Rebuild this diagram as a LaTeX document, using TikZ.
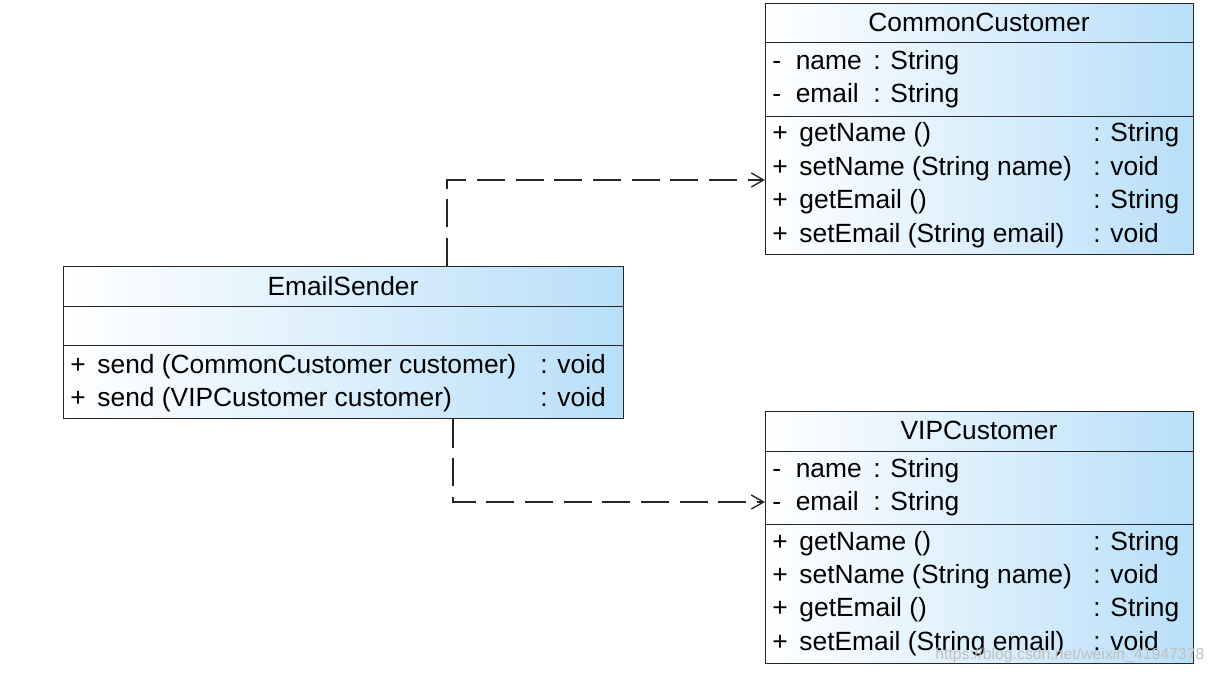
\documentclass[tikz,border=0pt]{standalone}
\usepackage{fontspec}
\setmainfont{Liberation Sans}
\usepackage{xcolor}
\usepackage{tikz}
\usetikzlibrary{arrows.meta}
\definecolor{umlblue}{RGB}{184,223,249}

\begin{document}
\begin{tikzpicture}[x=0.02cm,y=-0.02cm,
		part/.style={draw=black!85,line width=0.8pt,left color=white,right color=umlblue,anchor=north west,inner sep=0pt,minimum width=8.56cm},
		title/.style={inner sep=0pt,font=\fontsize{15}{18}\selectfont},
		row/.style={anchor=west,inner sep=0pt,text height=10pt,text depth=3pt,font=\fontsize{15}{18}\selectfont},
		dep/.style={draw=black!85,line width=0.8pt,dash pattern=on 16pt off 6pt,-{Straight Barb[length=7pt,width=8pt]}}]
			\useasboundingbox (0,0) rectangle (1216,674);

			%% CommonCustomer
			\node[part,minimum height=0.78cm] (cc-head) at (765,3) {};
			\node[part,minimum height=1.48cm] (cc-attr) at (765,42) {};
			\node[part,minimum height=2.76cm] (cc-ops) at (765,116) {};
			\node[title] (cc-name) at (979,22) {CommonCustomer};
			\node[row] (cc-a1) at (772,63) {- \ name};
			\node[row] (cc-a1t) at (873,63) {: String};
			\node[row] (cc-a2) at (772,96) {- \ email};
			\node[row] (cc-a2t) at (873,96) {: String};
			\node[row] (cc-o1) at (772,135) {+ \,getName ()};
			\node[row] (cc-o1t) at (1093,135) {: String};
			\node[row] (cc-o2) at (772,169) {+ \,setName (String name)};
			\node[row] (cc-o2t) at (1093,169) {: void};
			\node[row] (cc-o3) at (772,202) {+ \,getEmail ()};
			\node[row] (cc-o3t) at (1093,202) {: String};
			\node[row] (cc-o4) at (772,236) {+ \,setEmail (String email)};
			\node[row] (cc-o4t) at (1093,236) {: void};

			%% EmailSender
			\node[part,minimum width=11.2cm,minimum height=0.8cm] (es-head) at (63,266) {};
			\node[part,minimum width=11.2cm,minimum height=0.78cm] (es-attr) at (63,306) {};
			\node[part,minimum width=11.2cm,minimum height=1.46cm] (es-ops) at (63,345) {};
			\node[title] (es-name) at (343,286) {EmailSender};
			\node[row] (es-o1) at (70,367) {+ \,send (CommonCustomer customer)};
			\node[row] (es-o1t) at (540,367) {: void};
			\node[row] (es-o2) at (70,400) {+ \,send (VIPCustomer customer)};
			\node[row] (es-o2t) at (540,400) {: void};

			%% VIPCustomer
			\node[part,minimum height=0.8cm] (vip-head) at (765,411) {};
			\node[part,minimum height=1.46cm] (vip-attr) at (765,451) {};
			\node[part,minimum height=2.78cm] (vip-ops) at (765,524) {};
			\node[title] (vip-name) at (979,430) {VIPCustomer};
			\node[row] (vip-a1) at (772,471) {- \ name};
			\node[row] (vip-a1t) at (873,471) {: String};
			\node[row] (vip-a2) at (772,504) {- \ email};
			\node[row] (vip-a2t) at (873,504) {: String};
			\node[row] (vip-o1) at (772,544) {+ \,getName ()};
			\node[row] (vip-o1t) at (1093,544) {: String};
			\node[row] (vip-o2) at (772,577) {+ \,setName (String name)};
			\node[row] (vip-o2t) at (1093,577) {: void};
			\node[row] (vip-o3) at (772,610) {+ \,getEmail ()};
			\node[row] (vip-o3t) at (1093,610) {: String};
			\node[row] (vip-o4) at (772,644) {+ \,setEmail (String email)};
			\node[row] (vip-o4t) at (1093,644) {: void};

			\node[anchor=west,inner sep=0pt,text=gray!50,font=\fontsize{9}{10}\selectfont] (mark-url) at (935,655) {https://blog.csdn.net/weixin\_41947378};

			%% lines
			\coordinate (bend1) at (447,180);
			\coordinate (bend2) at (453,502);
			\draw[dep] (es-head.north -| bend1) -- (bend1) -- (cc-ops.west |- bend1);
			\draw[dep] (es-ops.south -| bend2) -- (bend2) -- (vip-attr.west |- bend2);
		\end{tikzpicture}
\end{document}
